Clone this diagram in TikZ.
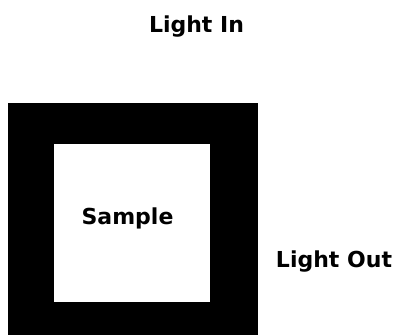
\documentclass[tikz,border=0pt]{standalone}
\usepackage{fontspec}
\setmainfont{DejaVu Sans}
\begin{document}
\begin{tikzpicture}[x=1pt,y=-1pt,
  label/.style={font=\fontsize{22}{26}\selectfont\bfseries, inner sep=0pt, anchor=base},
  holder/.style={fill=black, draw=none},
  well/.style={fill=white, draw=none}]
  \useasboundingbox (0,0) rectangle (396,335);
  % sample holder and its open window
  \path[holder] (8,103) rectangle (258,335);
  \path[well] (54,144) rectangle (210,302);
  % labels
  \node[label] (lightin) at (196.5,32) {Light In};
  \node[label] (sample) at (127.5,224) {Sample};
  \node[label] (lightout) at (334,267) {Light Out};
\end{tikzpicture}
\end{document}
